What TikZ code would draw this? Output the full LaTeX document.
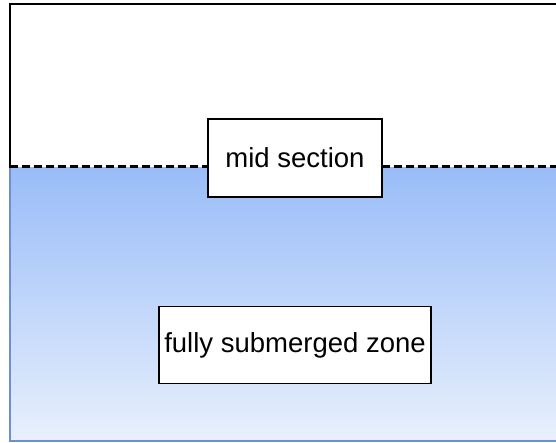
\documentclass[tikz,border=0pt]{standalone}
\usepackage{fontspec}
\setmainfont{Liberation Sans}
\begin{document}
\begin{tikzpicture}[x=1pt,y=1pt,
  label box/.style={draw=black, line width=1.8pt, fill=white, inner sep=0pt,
    font=\fontsize{27.5}{30}\selectfont},
  waterline/.style={draw=black, line width=3pt, dash pattern=on 8pt off 4pt}]
\useasboundingbox (0,0) rectangle (556,443);
\definecolor{waterTop}{RGB}{153,188,248}
\definecolor{waterBottom}{RGB}{232,240,252}
\definecolor{waterEdge}{RGB}{110,140,215}
% air region above the water
\draw[line width=2.4pt, fill=white] (10,275) -- (10,439) -- (570,439);
% submerged region
\shade[top color=waterTop, bottom color=waterBottom] (10,2) rectangle (560,275);
\draw[waterEdge, line width=2.4pt] (560,2) -- (10,2) -- (10,275);
% water surface
\coordinate (wl) at (10,276);
\coordinate (wr) at (560,276);
\draw[waterline] (wl) -- (wr);
% labels
\node[label box, minimum width=174pt, minimum height=78pt] (mid) at (295,285) {mid section};
\node[label box, minimum width=272pt, minimum height=77pt] (sub) at (295,98) {fully submerged zone};
\end{tikzpicture}
\end{document}
